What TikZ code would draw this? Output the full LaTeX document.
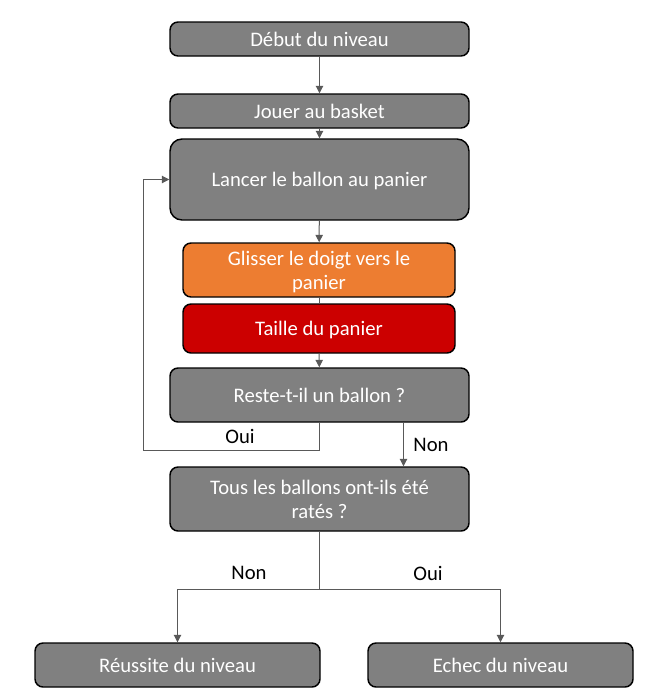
\documentclass[tikz,border=0pt]{standalone}
\usepackage{fontspec}
\setmainfont{Carlito}
\usetikzlibrary{arrows.meta}
\definecolor{boxgray}{HTML}{808080}
\definecolor{boxorange}{HTML}{ED7D31}
\definecolor{boxred}{HTML}{CC0000}
\definecolor{linegray}{HTML}{595959}
\newcommand*{\bwd}{224.25pt}
\newcommand*{\swd}{204pt}

\begin{document}
\begin{tikzpicture}[x=0.75pt, y=-0.75pt, font=\fontsize{15.5}{18}\selectfont,
    etape/.style={draw=black, line width=1.1pt, rounded corners=6pt, fill=boxgray, text=white, align=center, inner sep=0pt, text depth=0pt},
    lien/.style={draw=linegray, line width=0.75pt, -{Triangle[length=5.5pt, width=5.5pt]}},
    trait/.style={draw=linegray, line width=0.75pt}]
    \useasboundingbox (0,0) rectangle (647,700);
        \node [etape, minimum width=\bwd, minimum height=25.5pt] (debut) at (319.5, 39) {Début du niveau};
        \node [etape, minimum width=\bwd, minimum height=25.5pt] (jouer) at (319.5,111) {Jouer au basket};
        \node [etape, minimum width=\bwd, minimum height=60.75pt, rounded corners=9pt] (lancer) at (319.5,179.5) {Lancer le ballon au panier};
        \node [etape, fill=boxorange, minimum width=\swd, minimum height=40.5pt] (glisser) at (319,270) {Glisser le doigt vers le\\panier};
        \node [etape, fill=boxred, minimum width=\swd, minimum height=36.75pt] (taille) at (319,328.5) {Taille du panier};
        \node [etape, minimum width=\bwd, minimum height=40.5pt] (reste) at (319.5,395) {Reste-t-il un ballon ?};
        \node [etape, minimum width=\bwd, minimum height=48pt] (tous) at (319.5,499) {Tous les ballons ont-ils été\\ratés ?};
        \node [etape, minimum width=213.75pt, minimum height=33pt] (reussite) at (177.5,665) {Réussite du niveau};
        \node [etape, minimum width=198.75pt, minimum height=33pt] (echec) at (500.5,665) {Echec du niveau};
        \draw [lien] (debut) -- (jouer);
        \draw [lien] (jouer) -- (lancer);
        \draw [lien] (lancer) -- (glisser);
        \draw [trait] (glisser) -- (taille);
        \draw [lien] (taille) -- (reste);
        \coordinate (boucle) at (143,450);
        \draw [lien] (reste.south) |- (boucle) |- (lancer.west);
        \node (oui1) at (240,436) {Oui};
        \draw [lien] ([xshift=63pt]reste.south) -- ([xshift=63pt]tous.north);
        \node (non1) at (431,445) {Non};
        \coordinate (fourche) at (319.5,589);
        \draw [trait] (tous.south) -- (fourche);
        \draw [lien] (fourche) -| (reussite.north);
        \draw [lien] (fourche) -| (echec.north);
        \node (non2) at (249,573) {Non};
        \node (oui2) at (428,573) {Oui};
    \end{tikzpicture}
\end{document}
